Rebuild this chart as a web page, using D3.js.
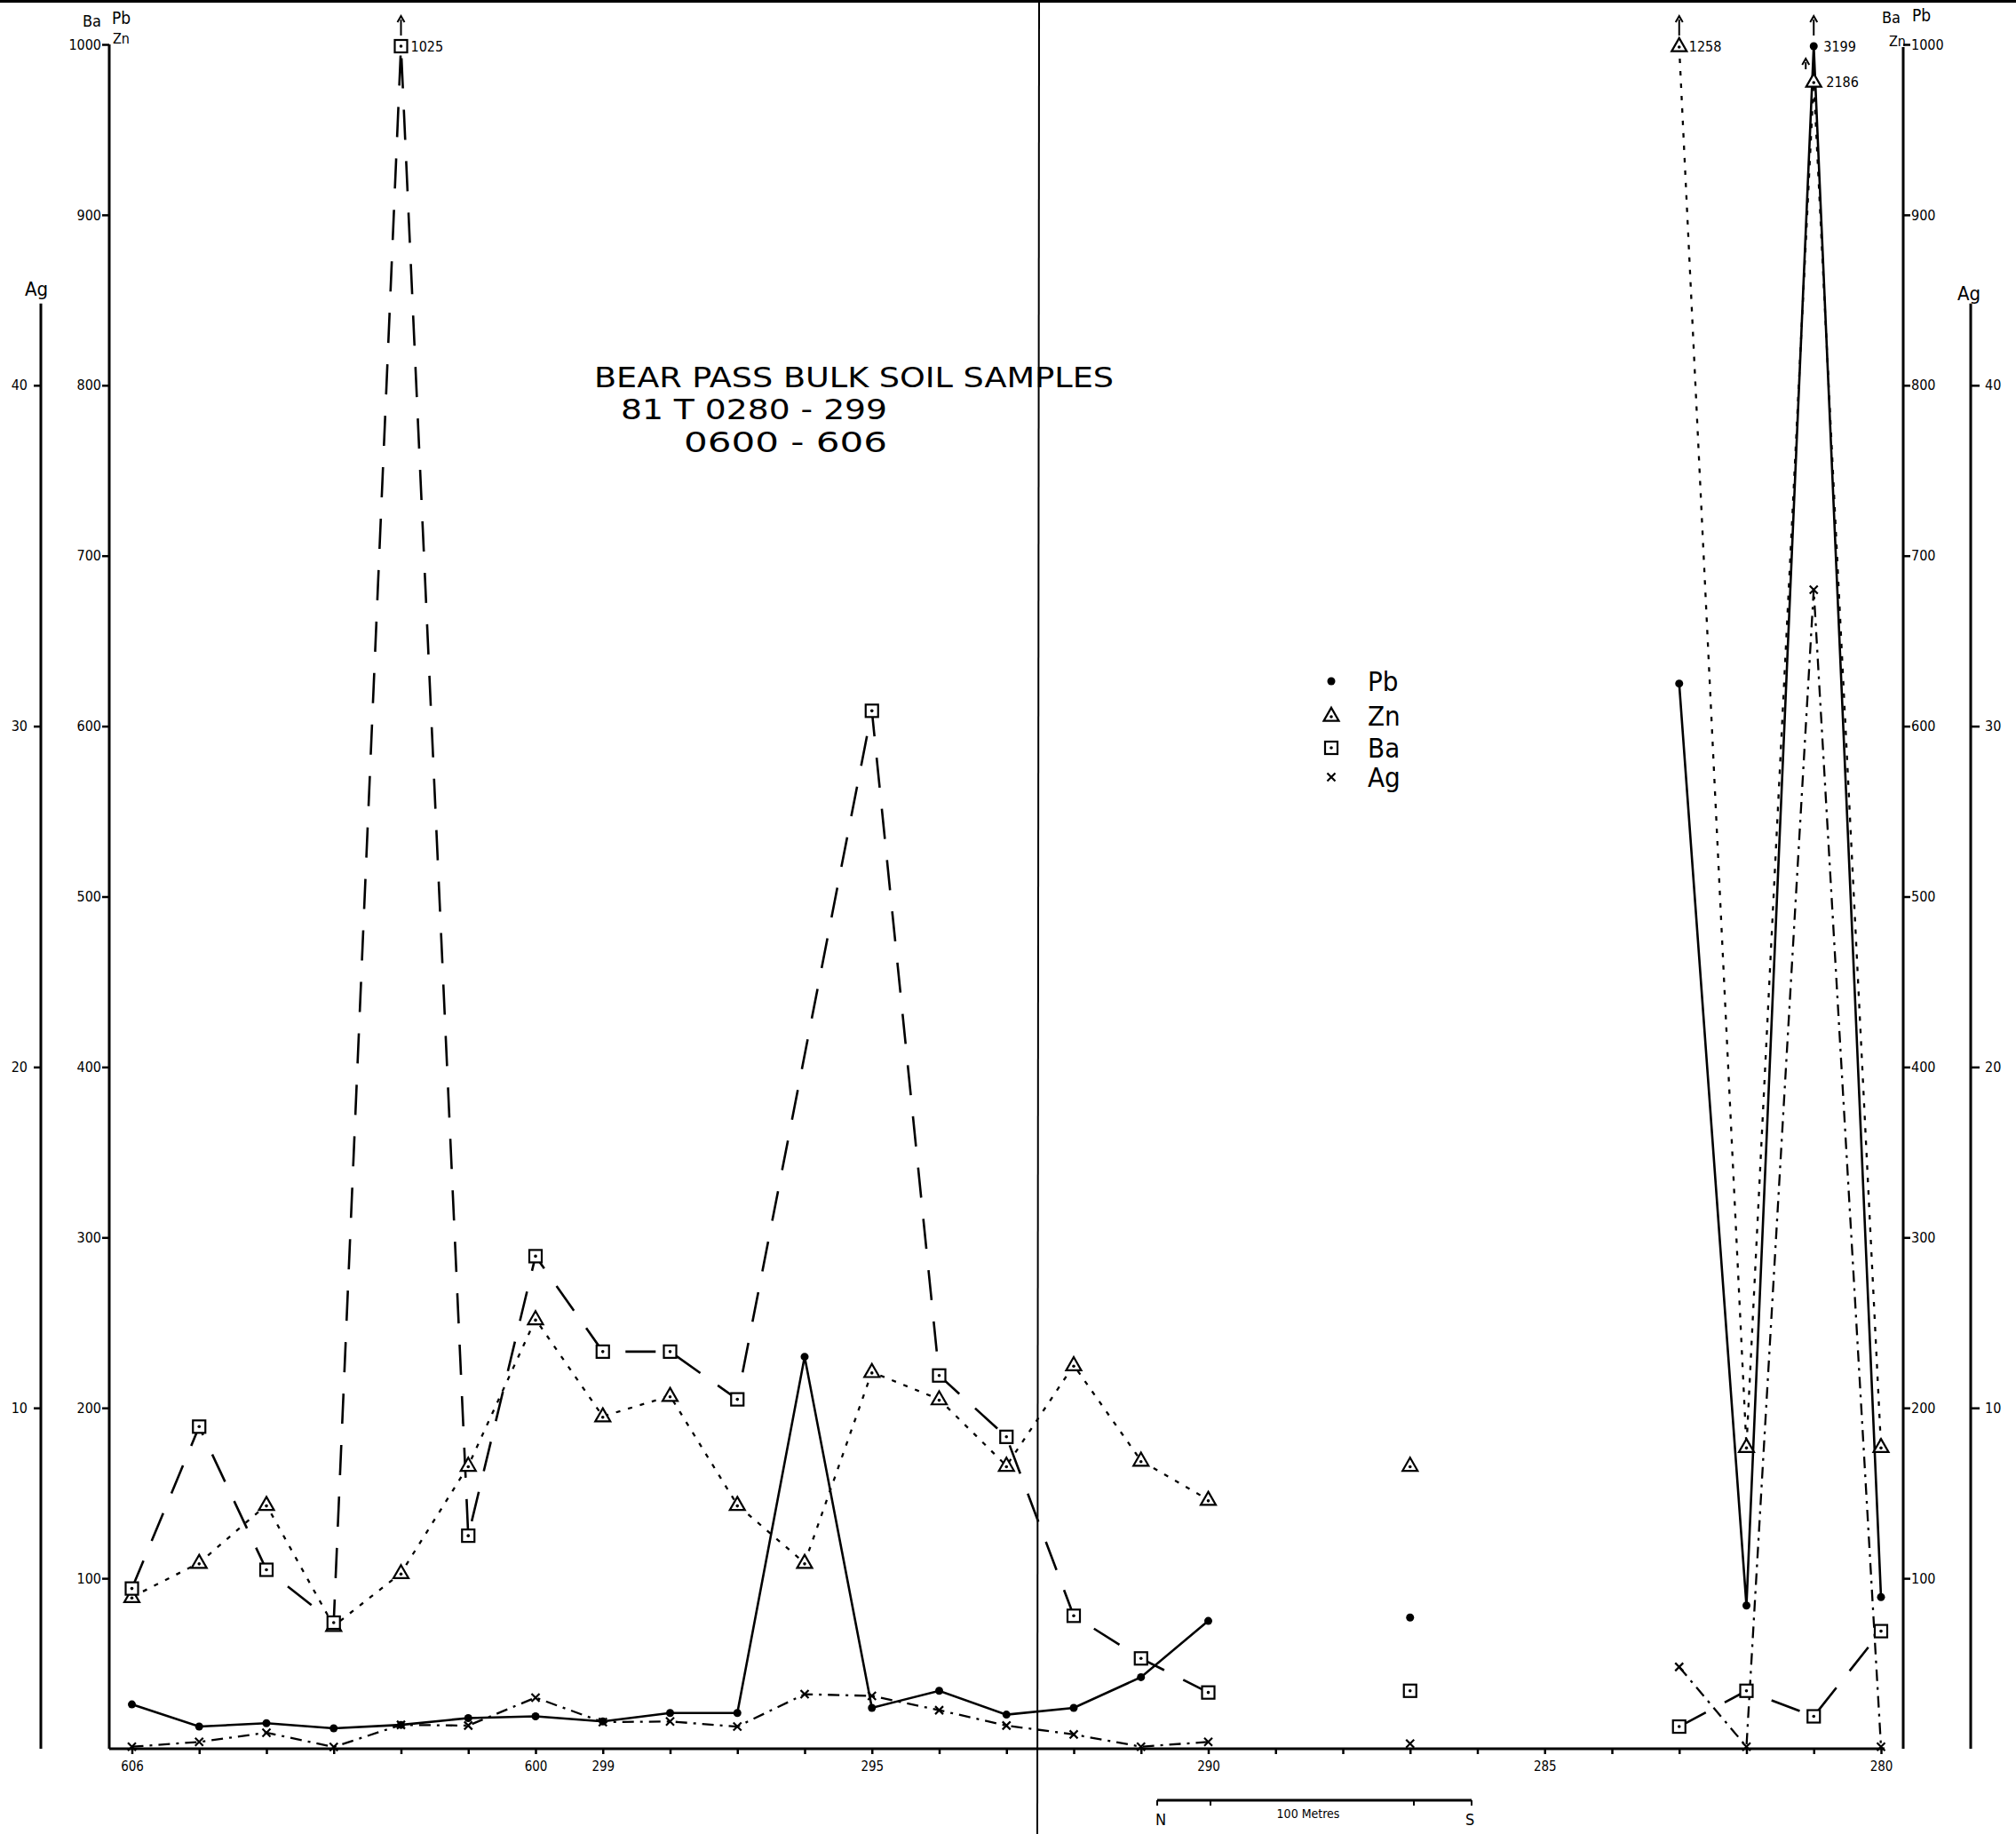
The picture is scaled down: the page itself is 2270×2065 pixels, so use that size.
<!DOCTYPE html>
<html><head><meta charset="utf-8">
<script src="https://cdn.jsdelivr.net/npm/d3@7"></script>
<style>body{margin:0;background:#fff}svg{display:block}</style>
</head><body>
<svg id="chart" width="2270" height="2065"></svg>
<script>
// ---------------- data ----------------
const categories = ["606","605","604","603","602","601","600","299","298","297","296","295","294","293","292","291","290","289","288","287","286","285","284","283","282","281","280"];
const tickLabels = ["606","600","299","295","290","285","280"];
const pbValues = [26,13,15,12,14,18,19,16,21,21,230,24,34,20,24,42,75,null,null,77,null,null,null,625,84,3199,89];
const znValues = [89,109,143,72,103,166,252,195,207,143,109,221,205,166,225,169,146,null,null,166,null,null,null,1258,177,2186,177];
const baValues = [94,189,105,74,1025,125,289,233,233,205,null,609,219,183,78,53,33,null,null,34,null,null,null,13,34,19,69];
const agValues = [0.06,0.2,0.47,0.05,0.7,0.68,1.5,0.78,0.8,0.65,1.6,1.55,1.13,0.68,0.42,0.06,0.2,null,null,0.15,null,null,null,2.4,0.06,34,0.06];
const lineGroups = [
  ["606","605","604","603","602","601","600","299","298","297","296","295","294","293","292","291","290"],
  ["287"],
  ["283","282","281","280"]
];
const mainTicks = [100,200,300,400,500,600,700,800,900,1000];
const agTicks = [10,20,30,40];
const seriesNames = ["Pb","Zn","Ba","Ag"];
const titleLines = ["BEAR PASS BULK SOIL SAMPLES","81 T 0280 - 299","0600 - 606"];

// ---------------- layout ----------------
const svg = d3.select("#chart");
const FONT = "'Liberation Sans Narrow','DejaVu Sans Condensed','Liberation Sans',sans-serif";
const y = d3.scaleLinear().domain([0,1000]).range([1969,50]);
const yAg = d3.scaleLinear().domain([0,50]).range([1969,50]);
const x = d3.scalePoint().domain(categories).range([148.5,2118]);
const agTop = 42.4;
const leftX = 123, rightX = 2143, leftAgX = 46, rightAgX = 2219;
const fmt = d3.format("d");

svg.append("rect").attr("width",2270).attr("height",2065).attr("fill","#fff");
// scan edges / fold
svg.append("line").attr("x1",0).attr("x2",2270).attr("y1",1.5).attr("y2",1.5).attr("stroke","#000").attr("stroke-width",3);
svg.append("line").attr("x1",1170).attr("x2",1168).attr("y1",0).attr("y2",2065).attr("stroke","#000").attr("stroke-width",2);

// ---------------- axes ----------------
function styleAxis(g){
  g.selectAll("path.domain").remove();
  g.selectAll("line").attr("stroke","#000").attr("stroke-width",2.5);
  g.selectAll("text").attr("font-family",FONT).attr("font-size",16).attr("fill","#000");
}
const gL = svg.append("g").attr("transform",`translate(${leftX},0)`)
  .call(d3.axisLeft(y).tickValues(mainTicks).tickFormat(fmt).tickSize(8).tickPadding(1).tickSizeOuter(0));
styleAxis(gL);
const gR = svg.append("g").attr("transform",`translate(${rightX},0)`)
  .call(d3.axisRight(y).tickValues(mainTicks).tickFormat(fmt).tickSize(8).tickPadding(1).tickSizeOuter(0));
styleAxis(gR);
const gLA = svg.append("g").attr("transform",`translate(${leftAgX},0)`)
  .call(d3.axisLeft(yAg).tickValues(agTicks).tickFormat(fmt).tickSize(8).tickPadding(7).tickSizeOuter(0));
styleAxis(gLA);
const gRA = svg.append("g").attr("transform",`translate(${rightAgX},0)`)
  .call(d3.axisRight(yAg).tickValues(agTicks).tickFormat(fmt).tickSize(10).tickPadding(6).tickSizeOuter(0));
styleAxis(gRA);
// axis lines
[[leftX,y(0),y(1000)],[rightX,y(0),y(1000)+3],[leftAgX,yAg(0),yAg(agTop)],[rightAgX,yAg(0),yAg(agTop)]].forEach(([ax,y1,y2])=>{
  svg.append("line").attr("x1",ax).attr("x2",ax).attr("y1",y1).attr("y2",y2).attr("stroke","#000").attr("stroke-width",3);
});
// baseline + category ticks
svg.append("line").attr("x1",leftX).attr("x2",2122).attr("y1",y(0)).attr("y2",y(0)).attr("stroke","#000").attr("stroke-width",3);
const gB = svg.append("g").attr("transform",`translate(0,${y(0)})`)
  .call(d3.axisBottom(x).tickValues(categories).tickSize(6).tickPadding(8).tickSizeOuter(0)
    .tickFormat(d => tickLabels.includes(d) ? d : ""));
styleAxis(gB);
gB.selectAll("text").attr("font-size",15);

// axis title labels
function txt(t,xx,yy,size,anchor){
  return svg.append("text").attr("x",xx).attr("y",yy).attr("font-family",FONT).attr("font-size",size)
    .attr("text-anchor",anchor||"start").attr("fill","#000").text(t);
}
txt("Ba",93,30,18); txt("Pb",126,27,19); txt("Zn",127,49,16);
txt("Ba",2119,26,18); txt("Pb",2153,24,19); txt("Zn",2127,52,16);
txt("Ag",28,333,22); txt("Ag",2204,338,22);

// title
txt(titleLines[0],669,436,32).attr("textLength",585).attr("lengthAdjust","spacingAndGlyphs");
txt(titleLines[1],699,472,32).attr("textLength",300).attr("lengthAdjust","spacingAndGlyphs");
txt(titleLines[2],770,509,32).attr("textLength",229).attr("lengthAdjust","spacingAndGlyphs");

// ---------------- data marks ----------------
const seriesValues = {Pb:pbValues, Zn:znValues, Ba:baValues, Ag:agValues};
const dash = {Pb:null, Zn:"5,9", Ba:"34,24", Ag:"13,7,3,7"};
const width = {Pb:2.6, Zn:2.3, Ba:2.6, Ag:2.3};

// position of each point (clipped values stacked at the top)
function pos(name,i){
  const v = seriesValues[name][i];
  if (v == null) return null;
  if (name === "Ag") return {x:x(categories[i]), y:yAg(v), clipped:false};
  if (v <= 1000) return {x:x(categories[i]), y:y(v), clipped:false};
  let k = 0;
  for (const other of ["Pb","Zn","Ba"]) {
    if (other === name) break;
    const ov = seriesValues[other][i];
    if (ov != null && ov > 1000) k++;
  }
  return {x:x(categories[i]), y:y(1000)+2+40*k, clipped:true, k:k, v:v};
}

const lineGen = d3.line().x(d=>d.x).y(d=>d.y);
seriesNames.forEach(name=>{
  lineGroups.forEach(group=>{
    const pts = group.map(c=>pos(name,categories.indexOf(c))).filter(p=>p);
    if (pts.length < 2) return;
    svg.append("path").attr("d",lineGen(pts)).attr("fill","none").attr("stroke","#000")
      .attr("stroke-width",width[name]).attr("stroke-dasharray",dash[name]).attr("stroke-linecap","butt");
  });
});

function marker(g,name,px,py){
  if (name==="Pb"){
    g.append("circle").attr("cx",px).attr("cy",py).attr("r",4.5).attr("fill","#000");
  } else if (name==="Zn"){
    const s=17, h=s*0.87;
    g.append("path").attr("d",`M${px},${py-h*0.62}L${px+s/2},${py+h*0.38}L${px-s/2},${py+h*0.38}Z`)
      .attr("fill","#fff").attr("stroke","#000").attr("stroke-width",2.2);
    g.append("circle").attr("cx",px).attr("cy",py+1).attr("r",1.8).attr("fill","#000");
  } else if (name==="Ba"){
    g.append("rect").attr("x",px-7).attr("y",py-7).attr("width",14).attr("height",14)
      .attr("fill","#fff").attr("stroke","#000").attr("stroke-width",2.2);
    g.append("circle").attr("cx",px).attr("cy",py).attr("r",1.8).attr("fill","#000");
  } else {
    g.append("path").attr("d",`M${px-4.5},${py-4.5}L${px+4.5},${py+4.5}M${px+4.5},${py-4.5}L${px-4.5},${py+4.5}`)
      .attr("stroke","#000").attr("stroke-width",2.2);
  }
}

const gm = svg.append("g");
seriesNames.forEach(name=>{
  categories.forEach((c,i)=>{
    const p = pos(name,i);
    if (!p) return;
    marker(gm,name,p.x,p.y);
    if (p.clipped){
      const ax = p.x - (p.k>0 ? 9 : 0);
      const top = p.k>0 ? p.y-26 : p.y-34;
      const bot = p.k>0 ? p.y-14 : p.y-12;
      gm.append("line").attr("x1",ax).attr("x2",ax).attr("y1",bot).attr("y2",top+4).attr("stroke","#000").attr("stroke-width",2);
      gm.append("path").attr("d",`M${ax-4},${top+7}L${ax},${top}L${ax+4},${top+7}`).attr("fill","none").attr("stroke","#000").attr("stroke-width",2);
      txt(String(p.v), p.x+(p.k>0?14:11), p.y+6, 16);
    }
  });
});

// ---------------- legend ----------------
const legendRows = [767,806,842,875];
seriesNames.forEach((name,i)=>{
  marker(gm,name,1499,legendRows[i]);
  txt(name,1540,legendRows[i]+11,31);
});

// ---------------- scale bar ----------------
svg.append("line").attr("x1",1303).attr("x2",1657).attr("y1",2027).attr("y2",2027).attr("stroke","#000").attr("stroke-width",3);
[1303,1363,1592,1657].forEach(tx=>svg.append("line").attr("x1",tx).attr("x2",tx).attr("y1",2027).attr("y2",2033).attr("stroke","#000").attr("stroke-width",2));
txt("N",1301,2055,18);
txt("100 Metres",1473,2047,14,"middle");
txt("S",1650,2055,18);
</script>
</body></html>
